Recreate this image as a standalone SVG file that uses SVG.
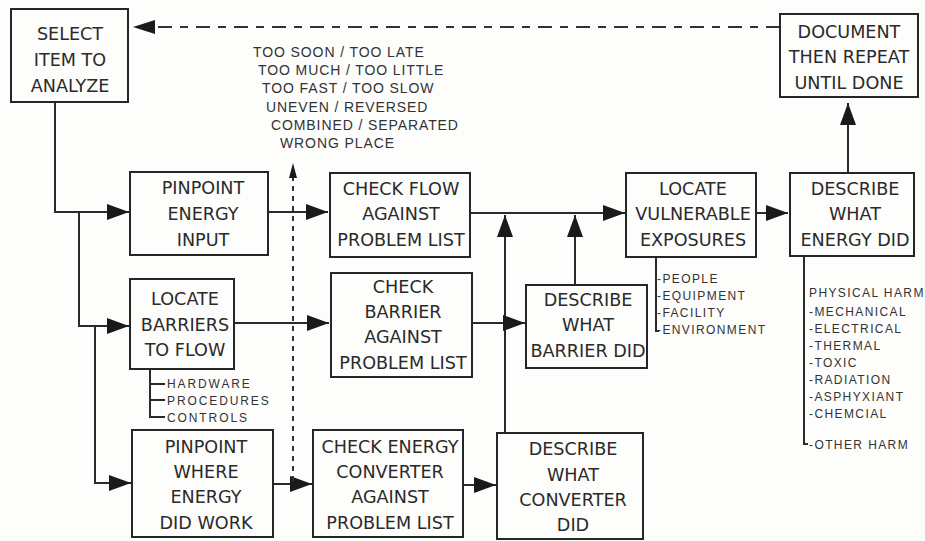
<svg xmlns="http://www.w3.org/2000/svg" width="925" height="541" viewBox="0 0 925 541">
<defs>
<style>
.box{fill:none;stroke:#262626;stroke-width:2}
.bt{font-family:"DejaVu Sans",sans-serif;font-size:17.6px;fill:#2a2a2a;text-anchor:middle}
.st{font-family:"Liberation Sans",Arial,sans-serif;font-size:12px;fill:#333;letter-spacing:1.4px}
.bl{letter-spacing:1.9px}
.pt{font-family:"Liberation Sans",Arial,sans-serif;font-size:14px;fill:#333;letter-spacing:0.9px}
.ln{fill:none;stroke:#2a2a2a;stroke-width:2}
.dash{fill:none;stroke:#333;stroke-width:2;stroke-dasharray:14 8 8 8}
.dot{fill:none;stroke:#333;stroke-width:2;stroke-dasharray:5 5}
</style>
<marker id="ah" markerUnits="userSpaceOnUse" markerWidth="22" markerHeight="16" refX="22" refY="8" orient="auto">
<path d="M0,0 L22,8 L0,16 Z" fill="#1a1a1a"/>
</marker>
</defs>
<rect width="925" height="541" fill="#fdfdfc"/>

<g id="connectors">
<path class="dash" d="M780,27 H155"/>
<path d="M133,27 L155,20 L155,34 Z" fill="#1a1a1a"/>
<path class="ln" d="M848,173 V103" marker-end="url(#ah)"/>
<path class="ln" d="M756,213 H788" marker-end="url(#ah)"/>
<path class="ln" d="M470,213 H625" marker-end="url(#ah)"/>
<path class="ln" d="M505,433 V215" marker-end="url(#ah)"/>
<path class="ln" d="M575,285 V215" marker-end="url(#ah)"/>
<path class="ln" d="M268,212 H328" marker-end="url(#ah)"/>
<path class="ln" d="M234,323 H329" marker-end="url(#ah)"/>
<path class="ln" d="M472,323 H525" marker-end="url(#ah)"/>
<path class="ln" d="M273,484 H312" marker-end="url(#ah)"/>
<path class="ln" d="M463,485 H496" marker-end="url(#ah)"/>
<path class="ln" d="M55,102 V212 H129" marker-end="url(#ah)"/>
<path class="ln" d="M79,212 V326 H129" marker-end="url(#ah)"/>
<path class="ln" d="M95,326 V483 H131" marker-end="url(#ah)"/>
<path class="dot" d="M293,481 V176"/>
<path d="M293,163 L297,178 L289,178 Z" fill="#1a1a1a"/>
<path class="ln" d="M150,369 V417 H165 M150,384 H165 M150,400 H165"/>
<path class="ln" d="M656,257 V331 H659"/>
<path class="ln" d="M804,256 V444 H808"/>
</g>

<g id="select">
<rect class="box" x="11" y="9" width="117" height="93"/>
<text class="bt" x="70" y="40">SELECT</text>
<text class="bt" x="70" y="66">ITEM TO</text>
<text class="bt" x="70" y="92">ANALYZE</text>
</g>

<g id="document">
<rect class="box" x="780" y="14" width="138" height="83"/>
<text class="bt" x="849" y="38">DOCUMENT</text>
<text class="bt" x="849" y="63">THEN REPEAT</text>
<text class="bt" x="849" y="89">UNTIL DONE</text>
</g>

<g id="describe-energy">
<rect class="box" x="790" y="173" width="124" height="83"/>
<text class="bt" x="855" y="195">DESCRIBE</text>
<text class="bt" x="855" y="220">WHAT</text>
<text class="bt" x="855" y="246">ENERGY DID</text>
</g>

<g id="locate-vulnerable">
<rect class="box" x="626" y="173" width="130" height="84"/>
<text class="bt" x="693" y="195">LOCATE</text>
<text class="bt" x="693" y="220">VULNERABLE</text>
<text class="bt" x="693" y="246">EXPOSURES</text>
</g>

<g id="check-flow">
<rect class="box" x="330" y="173" width="140" height="84"/>
<text class="bt" x="401" y="195">CHECK FLOW</text>
<text class="bt" x="401" y="220">AGAINST</text>
<text class="bt" x="401" y="246">PROBLEM LIST</text>
</g>

<g id="pinpoint-input">
<rect class="box" x="130" y="172" width="138" height="83"/>
<text class="bt" x="203" y="194">PINPOINT</text>
<text class="bt" x="203" y="220">ENERGY</text>
<text class="bt" x="203" y="246">INPUT</text>
</g>

<g id="locate-barriers">
<rect class="box" x="130" y="279" width="104" height="90"/>
<text class="bt" x="185" y="305">LOCATE</text>
<text class="bt" x="185" y="331">BARRIERS</text>
<text class="bt" x="185" y="356">TO FLOW</text>
</g>

<g id="barrier-list">
<text class="st bl" x="167" y="388">HARDWARE</text>
<text class="st bl" x="167" y="405">PROCEDURES</text>
<text class="st bl" x="167" y="422">CONTROLS</text>
</g>

<g id="check-barrier">
<rect class="box" x="331" y="273" width="141" height="104"/>
<text class="bt" x="403" y="293">CHECK</text>
<text class="bt" x="403" y="318">BARRIER</text>
<text class="bt" x="403" y="343">AGAINST</text>
<text class="bt" x="403" y="369">PROBLEM LIST</text>
</g>

<g id="describe-barrier">
<rect class="box" x="526" y="285" width="121" height="83"/>
<text class="bt" x="588" y="306">DESCRIBE</text>
<text class="bt" x="588" y="331">WHAT</text>
<text class="bt" x="588" y="357">BARRIER DID</text>
</g>

<g id="pinpoint-where">
<rect class="box" x="132" y="430" width="141" height="107"/>
<text class="bt" x="206" y="453">PINPOINT</text>
<text class="bt" x="206" y="478">WHERE</text>
<text class="bt" x="206" y="503">ENERGY</text>
<text class="bt" x="206" y="529">DID WORK</text>
</g>

<g id="check-converter">
<rect class="box" x="313" y="430" width="150" height="107"/>
<text class="bt" x="390" y="453">CHECK ENERGY</text>
<text class="bt" x="390" y="478">CONVERTER</text>
<text class="bt" x="390" y="503">AGAINST</text>
<text class="bt" x="390" y="529">PROBLEM LIST</text>
</g>

<g id="describe-converter">
<rect class="box" x="497" y="433" width="146" height="106"/>
<text class="bt" x="573" y="455">DESCRIBE</text>
<text class="bt" x="573" y="481">WHAT</text>
<text class="bt" x="573" y="506">CONVERTER</text>
<text class="bt" x="573" y="531">DID</text>
</g>

<g id="problem-list">
<text class="pt" x="253" y="57">TOO SOON / TOO LATE</text>
<text class="pt" x="258" y="75">TOO MUCH / TOO LITTLE</text>
<text class="pt" x="262" y="93">TOO FAST / TOO SLOW</text>
<text class="pt" x="266" y="112">UNEVEN / REVERSED</text>
<text class="pt" x="271" y="130">COMBINED / SEPARATED</text>
<text class="pt" x="280" y="148">WRONG PLACE</text>
</g>

<g id="exposure-list">
<text class="st" x="657" y="283">-PEOPLE</text>
<text class="st" x="657" y="300">-EQUIPMENT</text>
<text class="st" x="657" y="317">-FACILITY</text>
<text class="st" x="657" y="334">-ENVIRONMENT</text>
</g>

<g id="harm-list">
<text class="st" x="809" y="297">PHYSICAL HARM</text>
<text class="st" x="809" y="316">-MECHANICAL</text>
<text class="st" x="809" y="333">-ELECTRICAL</text>
<text class="st" x="809" y="350">-THERMAL</text>
<text class="st" x="809" y="367">-TOXIC</text>
<text class="st" x="809" y="384">-RADIATION</text>
<text class="st" x="809" y="401">-ASPHYXIANT</text>
<text class="st" x="809" y="418">-CHEMCIAL</text>
<text class="st" x="809" y="449">-OTHER HARM</text>
</g>
</svg>
